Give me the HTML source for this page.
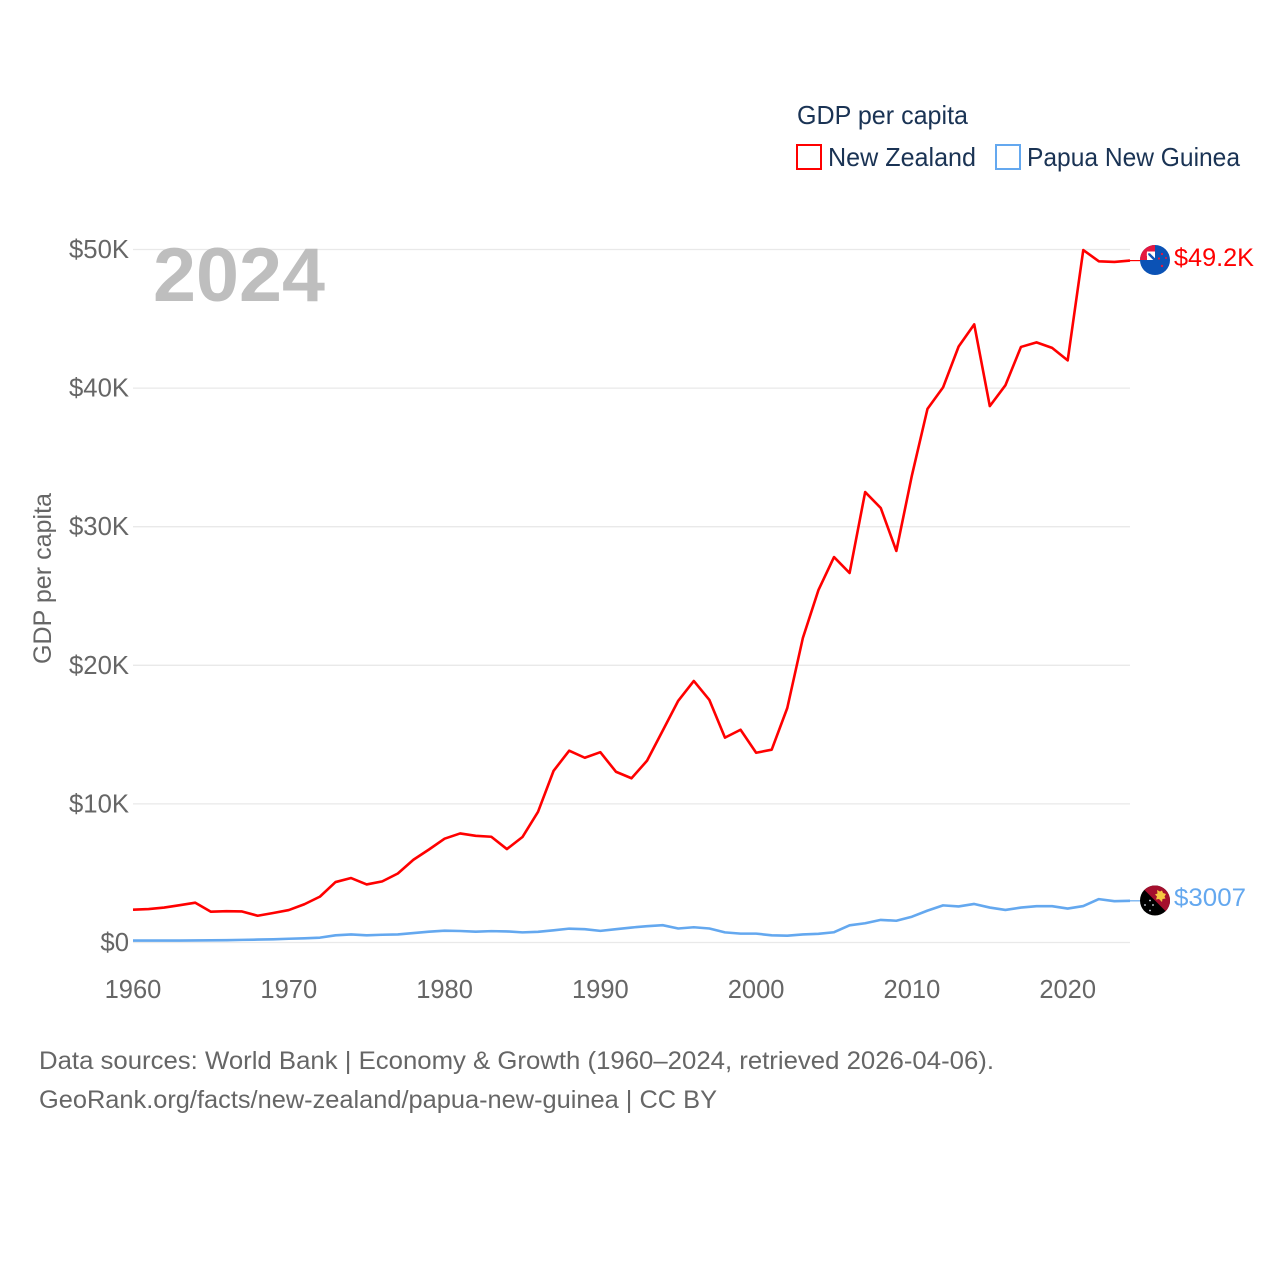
<!DOCTYPE html>
<html lang="en">
<head>
<meta charset="utf-8">
<title>GDP per capita: New Zealand and Papua New Guinea</title>
<style>
html,body{margin:0;padding:0;background:#fff}
svg{display:block}
text{font-family:"Liberation Sans",sans-serif}
</style>
</head>
<body>
<svg id="chart" xmlns="http://www.w3.org/2000/svg" width="1280" height="1280" viewBox="0 0 1280 1280">
  <defs>
    <clipPath id="flag-clip-nz"><circle cx="1155" cy="260" r="15"/></clipPath>
    <clipPath id="flag-clip-pg"><circle cx="1155" cy="900.5" r="15"/></clipPath>
  </defs>
  <rect width="1280" height="1280" fill="#fff"/>
  <g id="grid"></g>
  <g id="yticks"></g>
  <g id="xticks"></g>
  <text x="153" y="301" font-size="76" font-weight="700" fill="#bebebe" textLength="172" lengthAdjust="spacingAndGlyphs">2024</text>
  <text transform="translate(51,664) rotate(-90)" font-size="25" fill="#666" textLength="171" lengthAdjust="spacingAndGlyphs">GDP per capita</text>
  <g id="series"></g>

  <g>
    <text x="797" y="124" font-size="26" fill="#1a3354" textLength="171" lengthAdjust="spacingAndGlyphs">GDP per capita</text>
    <g>
      <rect x="797" y="145" width="24" height="24" fill="#fff" stroke="#ff0000" stroke-width="2"/>
      <text x="828" y="166" font-size="26" fill="#1a3354" textLength="148" lengthAdjust="spacingAndGlyphs">New Zealand</text>
    </g>
    <g>
      <rect x="996" y="145" width="24" height="24" fill="#fff" stroke="#64a8ef" stroke-width="2"/>
      <text x="1027" y="166" font-size="26" fill="#1a3354" textLength="213" lengthAdjust="spacingAndGlyphs">Papua New Guinea</text>
    </g>
  </g>

  <g clip-path="url(#flag-clip-nz)">
    <rect x="1140" y="245" width="30" height="30" fill="#0b52b5"/>
    <rect x="1140" y="245" width="15" height="15" fill="#e5173f"/>
    <rect x="1147" y="251.5" width="8" height="8.5" fill="#fff"/>
    <path d="M1148 253L1155 260" stroke="#0b52b5" stroke-width="2.4"/>
    <path d="M1147.5 252.5H1151M1147.5 252.5V256" stroke="#fff" stroke-width="1.4" fill="none"/>
    <circle cx="1162" cy="254" r="1.1" fill="#e5173f"/>
    <circle cx="1166" cy="258" r="1" fill="#e5173f"/>
    <circle cx="1159" cy="258.5" r="1.1" fill="#e5173f"/>
    <circle cx="1162" cy="266" r="1.2" fill="#e5173f"/>
  </g>
  <g clip-path="url(#flag-clip-pg)">
    <rect x="1140" y="885.5" width="30" height="30" fill="#000"/>
    <path d="M1140 885.5H1170V915.5Z" fill="#a50f2d"/>
    <path d="M1157 890l3 1.500 2-1 1 2.500 3 1-1.500 2.500 1 2-3 .5-.5 3-3-3-3 .5 1-3-2-2 2.500-1z" fill="#f5c842"/>
    <circle cx="1150" cy="900.5" r=".9" fill="#dfe8f2"/>
    <circle cx="1145" cy="905" r=".9" fill="#dfe8f2"/>
    <circle cx="1153" cy="905" r=".9" fill="#dfe8f2"/>
    <circle cx="1150" cy="910.5" r=".9" fill="#dfe8f2"/>
  </g>
  <text x="1174" y="266" font-size="25" fill="#ff0000" textLength="80" lengthAdjust="spacingAndGlyphs">$49.2K</text>
  <text x="1174" y="906" font-size="25" fill="#64a8ef" textLength="72" lengthAdjust="spacingAndGlyphs">$3007</text>

  <text x="39" y="1069" font-size="25" fill="#666" textLength="955" lengthAdjust="spacingAndGlyphs">Data sources: World Bank | Economy &amp; Growth (1960–2024, retrieved 2026-04-06).</text>
  <text x="39" y="1108" font-size="25" fill="#666" textLength="678" lengthAdjust="spacingAndGlyphs">GeoRank.org/facts/new-zealand/papua-new-guinea | CC BY</text>
</svg>
<script>
const startYear = 1960;
const endYear = 2024;
const yTickValues = [0, 10, 20, 30, 40, 50];
const yTickLabels = ["$0", "$10K", "$20K", "$30K", "$40K", "$50K"];
const xTickYears = [1960, 1970, 1980, 1990, 2000, 2010, 2020];
const xTickLabels = ["1960", "1970", "1980", "1990", "2000", "2010", "2020"];
const newZealand = [2.37,2.41,2.52,2.69,2.87,2.22,2.26,2.24,1.93,2.13,2.34,2.76,3.31,4.36,4.65,4.19,4.41,4.98,5.97,6.71,7.49,7.87,7.70,7.63,6.74,7.61,9.43,12.39,13.84,13.33,13.73,12.32,11.85,13.12,15.28,17.44,18.87,17.5,14.78,15.35,13.69,13.91,16.92,21.97,25.43,27.81,26.66,32.5,31.35,28.25,33.7,38.5,40.05,43.0,44.6,38.7,40.2,42.97,43.3,42.9,42.0,49.96,49.15,49.1,49.2];
const papuaNewGuinea = [0.14,0.14,0.14,0.14,0.15,0.16,0.17,0.19,0.21,0.23,0.27,0.30,0.35,0.52,0.58,0.52,0.56,0.58,0.68,0.78,0.85,0.83,0.78,0.82,0.80,0.73,0.77,0.88,1.00,0.96,0.84,0.96,1.08,1.18,1.25,1.01,1.10,1.01,0.73,0.64,0.64,0.52,0.49,0.58,0.63,0.74,1.24,1.39,1.63,1.57,1.86,2.30,2.68,2.60,2.78,2.52,2.35,2.52,2.62,2.62,2.45,2.63,3.13,2.98,3.007];

const NS = "http://www.w3.org/2000/svg";
const plotLeft = 133, plotRight = 1130, plotBottom = 942.5, plotTop = 249.5;
function xScale(year) {
  return plotLeft + (year - startYear) * (plotRight - plotLeft) / (endYear - startYear);
}
function yScale(value) {
  return plotBottom - value * (plotBottom - plotTop) / 50;
}
const gridGroup = document.getElementById("grid");
const yTickGroup = document.getElementById("yticks");
const xTickGroup = document.getElementById("xticks");
const seriesGroup = document.getElementById("series");

yTickValues.forEach(function (value, i) {
  const line = document.createElementNS(NS, "line");
  line.setAttribute("x1", plotLeft);
  line.setAttribute("x2", plotRight);
  line.setAttribute("y1", yScale(value));
  line.setAttribute("y2", yScale(value));
  line.setAttribute("stroke", "#e9e9e9");
  line.setAttribute("stroke-width", "1.3");
  
  
  gridGroup.appendChild(line);

  const label = document.createElementNS(NS, "text");
  label.setAttribute("x", 129);
  label.setAttribute("y", yScale(value) + 8.5);
  label.setAttribute("text-anchor", "end");
  label.setAttribute("font-size", "25.7");
  label.setAttribute("fill", "#666");
  label.textContent = yTickLabels[i];
  
  
  yTickGroup.appendChild(label);
});

xTickYears.forEach(function (year, i) {
  const label = document.createElementNS(NS, "text");
  label.setAttribute("x", xScale(year));
  label.setAttribute("y", 998);
  label.setAttribute("text-anchor", "middle");
  label.setAttribute("font-size", "25.5");
  label.setAttribute("fill", "#666");
  label.textContent = xTickLabels[i];
  
  
  xTickGroup.appendChild(label);
});

function drawSeries(values, color, seriesName) {
  const points = values.map(function (value, i) {
    return xScale(startYear + i).toFixed(2) + "," + yScale(value).toFixed(2);
  }).join(" ");
  const line = document.createElementNS(NS, "polyline");
  line.setAttribute("points", points);
  line.setAttribute("fill", "none");
  line.setAttribute("stroke", color);
  line.setAttribute("stroke-width", "2.6");
  line.setAttribute("stroke-linejoin", "round");
  
  
  seriesGroup.appendChild(line);

  const lastY = yScale(values[values.length - 1]);
  const leader = document.createElementNS(NS, "line");
  leader.setAttribute("x1", plotRight);
  leader.setAttribute("x2", 1141);
  leader.setAttribute("y1", lastY);
  leader.setAttribute("y2", lastY);
  leader.setAttribute("stroke", color);
  leader.setAttribute("stroke-width", "1.2");
  
  
  seriesGroup.appendChild(leader);
}
drawSeries(newZealand, "#ff0000", "line-new-zealand");
drawSeries(papuaNewGuinea, "#64a8ef", "line-papua-new-guinea");
</script>
</body>
</html>
